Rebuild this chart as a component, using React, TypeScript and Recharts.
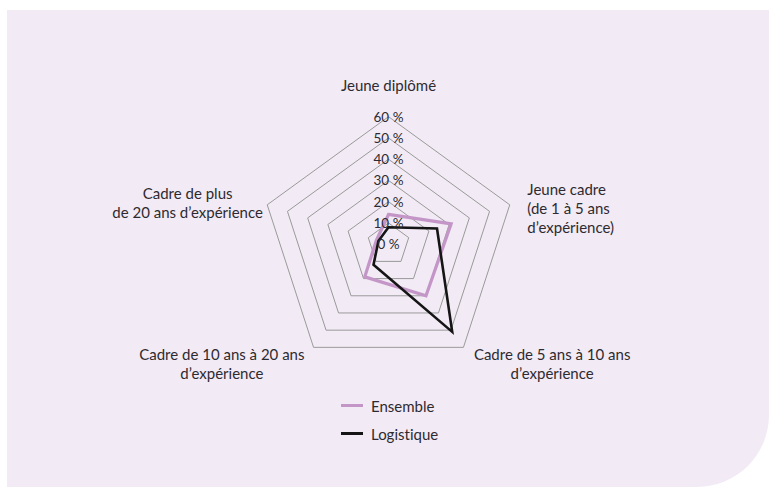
import { RadarChart, Radar, PolarGrid, PolarAngleAxis, PolarRadiusAxis, Legend } from 'recharts'

const categories = [
  'Jeune diplômé',
  'Jeune cadre (de 1 à 5 ans d’expérience)',
  'Cadre de 5 ans à 10 ans d’expérience',
  'Cadre de 10 ans à 20 ans d’expérience',
  'Cadre de plus de 20 ans d’expérience',
]
const ensemble = [14, 31, 30, 19, 6]
const logistique = [8, 24, 51, 12, 5]
const radiusTicks = [0, 10, 20, 30, 40, 50, 60]

// label lines for each axis, as printed
const labelLines = [
  ['Jeune diplômé'],
  ['Jeune cadre', '(de 1 à 5 ans', 'd’expérience)'],
  ['Cadre de 5 ans à 10 ans', 'd’expérience'],
  ['Cadre de 10 ans à 20 ans', 'd’expérience'],
  ['Cadre de plus', 'de 20 ans d’expérience'],
]

const data = categories.map((name, i) => ({
  name,
  ensemble: ensemble[i],
  logistique: logistique[i],
}))

const FONT = 'Lato, "Open Sans", sans-serif'
const TEXT = '#2e2a30'
const PURPLE = '#c496c8'
const BLACK = '#151515'

// placement of each category label relative to its tick point
const labelPlacement = [
  { anchor: 'middle', dx: 0, dy: -23 },
  { anchor: 'start', dx: 10, dy: -13 },
  { anchor: 'middle', dx: 84, dy: 1 },
  { anchor: 'middle', dx: -87, dy: 1 },
  { anchor: 'middle', dx: -72, dy: -9 },
]

const AngleTick = (props: any) => {
  const { x, y, index } = props
  const lines = labelLines[index] || []
  const p = labelPlacement[index]
  return (
    <text
      x={x + p.dx}
      y={y + p.dy}
      textAnchor={p.anchor}
      fill={TEXT}
      fontFamily={FONT}
      fontSize={15}
      style={{ fontVariantLigatures: 'none' }}
    >
      {lines.map((l, i) => (
        <tspan key={i} x={x + p.dx} dy={i === 0 ? '0.35em' : 19}>
          {l}
        </tspan>
      ))}
    </text>
  )
}

const RadiusTick = (props: any) => {
  const { x, y, payload } = props
  return (
    <text x={x} y={y} textAnchor="middle" dominantBaseline="central" fill={TEXT} fontFamily={FONT} fontSize={13.5}>
      {`${payload.value} %`}
    </text>
  )
}

const LegendContent = () => (
  <div style={{ fontFamily: FONT, fontSize: 15, color: TEXT, fontVariantLigatures: 'none' }}>
    {[
      { name: 'Ensemble', color: PURPLE },
      { name: 'Logistique', color: BLACK },
    ].map((s) => (
      <div key={s.name} style={{ display: 'flex', alignItems: 'center', height: 27.7 }}>
        <div style={{ width: 22, height: 3, background: s.color, marginRight: 8 }} />
        <span>{s.name}</span>
      </div>
    ))}
  </div>
)

export default function App() {
  return (
    <div style={{ position: 'absolute', left: 0, top: 0, width: 769, height: 487, background: '#fff', overflow: 'hidden' }}>
      <div
        style={{
          position: 'absolute',
          left: 7,
          top: 10,
          width: 762,
          height: 477,
          background: '#f2eaf5',
          borderBottomRightRadius: 72,
        }}
      />
      <div style={{ position: 'absolute', left: 0, top: 0 }}>
        <RadarChart width={769} height={487} data={data} cx={388.5} cy={244.2} outerRadius={127.5}>
          <PolarGrid gridType="polygon" radialLines={false} stroke="#9a9a9a" strokeWidth={1} />
          <PolarAngleAxis dataKey="name" tick={<AngleTick />} tickLine={false} axisLine={false} />
          <PolarRadiusAxis
            angle={90}
            domain={[0, 60]}
            ticks={radiusTicks}
            tickCount={7}
            axisLine={false}
            tick={<RadiusTick />}
          />
          <Radar
            name="Ensemble"
            dataKey="ensemble"
            stroke={PURPLE}
            strokeWidth={3.2}
            fill="none"
            fillOpacity={0}
            isAnimationActive={false}
            dot={false}
          />
          <Radar
            name="Logistique"
            dataKey="logistique"
            stroke={BLACK}
            strokeWidth={2.6}
            fill="none"
            fillOpacity={0}
            isAnimationActive={false}
            dot={false}
          />
          <Legend content={<LegendContent />} wrapperStyle={{ left: 341, top: 392, width: 'auto' }} />
        </RadarChart>
      </div>
    </div>
  )
}
